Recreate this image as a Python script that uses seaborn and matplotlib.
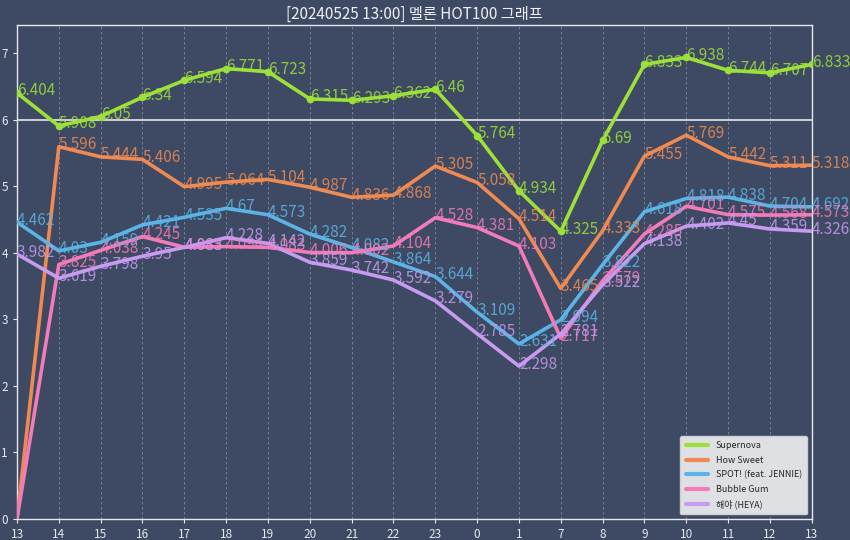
import pandas as pd
import seaborn as sns
import matplotlib.pyplot as plt

hours = ['13', '14', '15', '16', '17', '18', '19', '20', '21', '22',
         '23', '0', '1', '7', '8', '9', '10', '11', '12', '13']

supernova = [6.404, 5.908, 6.05, 6.34, 6.594, 6.771, 6.723, 6.315, 6.293, 6.362,
             6.46, 5.764, 4.934, 4.325, 5.69, 6.833, 6.938, 6.744, 6.707, 6.833]
howSweet = [0, 5.596, 5.444, 5.406, 4.995, 5.064, 5.104, 4.987, 4.836, 4.868,
            5.305, 5.058, 4.514, 3.465, 4.333, 5.455, 5.769, 5.442, 5.311, 5.318]
spot = [4.462, 4.03, 4.159, 4.421, 4.535, 4.67, 4.573, 4.282, 4.082, 3.864,
        3.644, 3.109, 2.631, 2.994, 3.822, 4.618, 4.818, 4.838, 4.704, 4.692]
bubbleGum = [0, 3.825, 4.038, 4.245, 4.085, 4.094, 4.083, 4.006, 4.002, 4.104,
             4.528, 4.381, 4.103, 2.717, 3.579, 4.285, 4.701, 4.575, 4.568, 4.573]
heya = [3.982, 3.619, 3.798, 3.95, 4.083, 4.228, 4.142, 3.859, 3.742, 3.592,
        3.279, 2.785, 2.298, 2.781, 3.522, 4.138, 4.402, 4.45, 4.359, 4.326]

songs = ['Supernova', 'How Sweet', 'SPOT! (feat. JENNIE)', 'Bubble Gum', '해야 (HEYA)']
series = [supernova, howSweet, spot, bubbleGum, heya]
colors = ['#9ee03a', '#ee8a52', '#5cb3e6', '#f27bb9', '#c79bf0']

bg = '#3e4a63'
sns.set_theme(style='dark')
plt.rcParams['font.family'] = ['Noto Sans CJK KR', 'DejaVu Sans']

rows = []
for song, vals in zip(songs, series):
    for i, v in enumerate(vals):
        rows.append({'idx': i, 'score': v, 'song': song})
df = pd.DataFrame(rows)

fig, ax = plt.subplots(figsize=(8.5, 5.4), dpi=100)
fig.patch.set_facecolor(bg)
ax.set_facecolor(bg)

# vertical dashed grid
for i in range(len(hours)):
    ax.axvline(i, color='#7f889c', lw=0.6, ls=(0, (3, 3)), zorder=0)
ax.axhline(6, color='#e8e8ee', lw=1.2, zorder=1)

for song, col in zip(songs, colors):
    sub = df[df['song'] == song]
    sns.lineplot(data=sub, x='idx', y='score', color=col, lw=2.6, ax=ax,
                 label=song, marker='o' if song == 'Supernova' else None,
                 markersize=5.5, markeredgewidth=0, zorder=3)
    for _, r in sub.iterrows():
        if r['score'] == 0:
            continue
        ax.text(r['idx'], r['score'] + 0.03, f"{r['score']:g}", color=col, fontsize=11,
                ha='left', va='center', alpha=0.85, zorder=4)

ax.set_xlim(0, len(hours) - 1)
ax.set_ylim(0, 7.42)
ax.set_xticks(range(len(hours)))
ax.set_xticklabels(hours)
ax.set_yticks(range(0, 8))
ax.set_xlabel('')
ax.set_ylabel('')
ax.tick_params(colors='#e6e8ee', labelsize=8.5, length=3, width=0.8, left=True, bottom=True)
for sp in ax.spines.values():
    sp.set_color('#e6e8ee')
    sp.set_linewidth(1.0)
ax.set_title('[20240525 13:00] 멜론 HOT100 그래프', color='#eef0f4', fontsize=11, pad=5)

leg = ax.legend(loc='lower right', fontsize=6.5, facecolor='#dfe0e4', edgecolor='#cfd0d4',
                framealpha=1, handlelength=2.5, borderpad=0.6, labelspacing=0.6)
for line in leg.get_lines():
    line.set_linewidth(3)
    line.set_marker('')

plt.subplots_adjust(left=0.02, right=0.955, top=0.953, bottom=0.039)
plt.savefig('out.png', dpi=100, facecolor=bg)
